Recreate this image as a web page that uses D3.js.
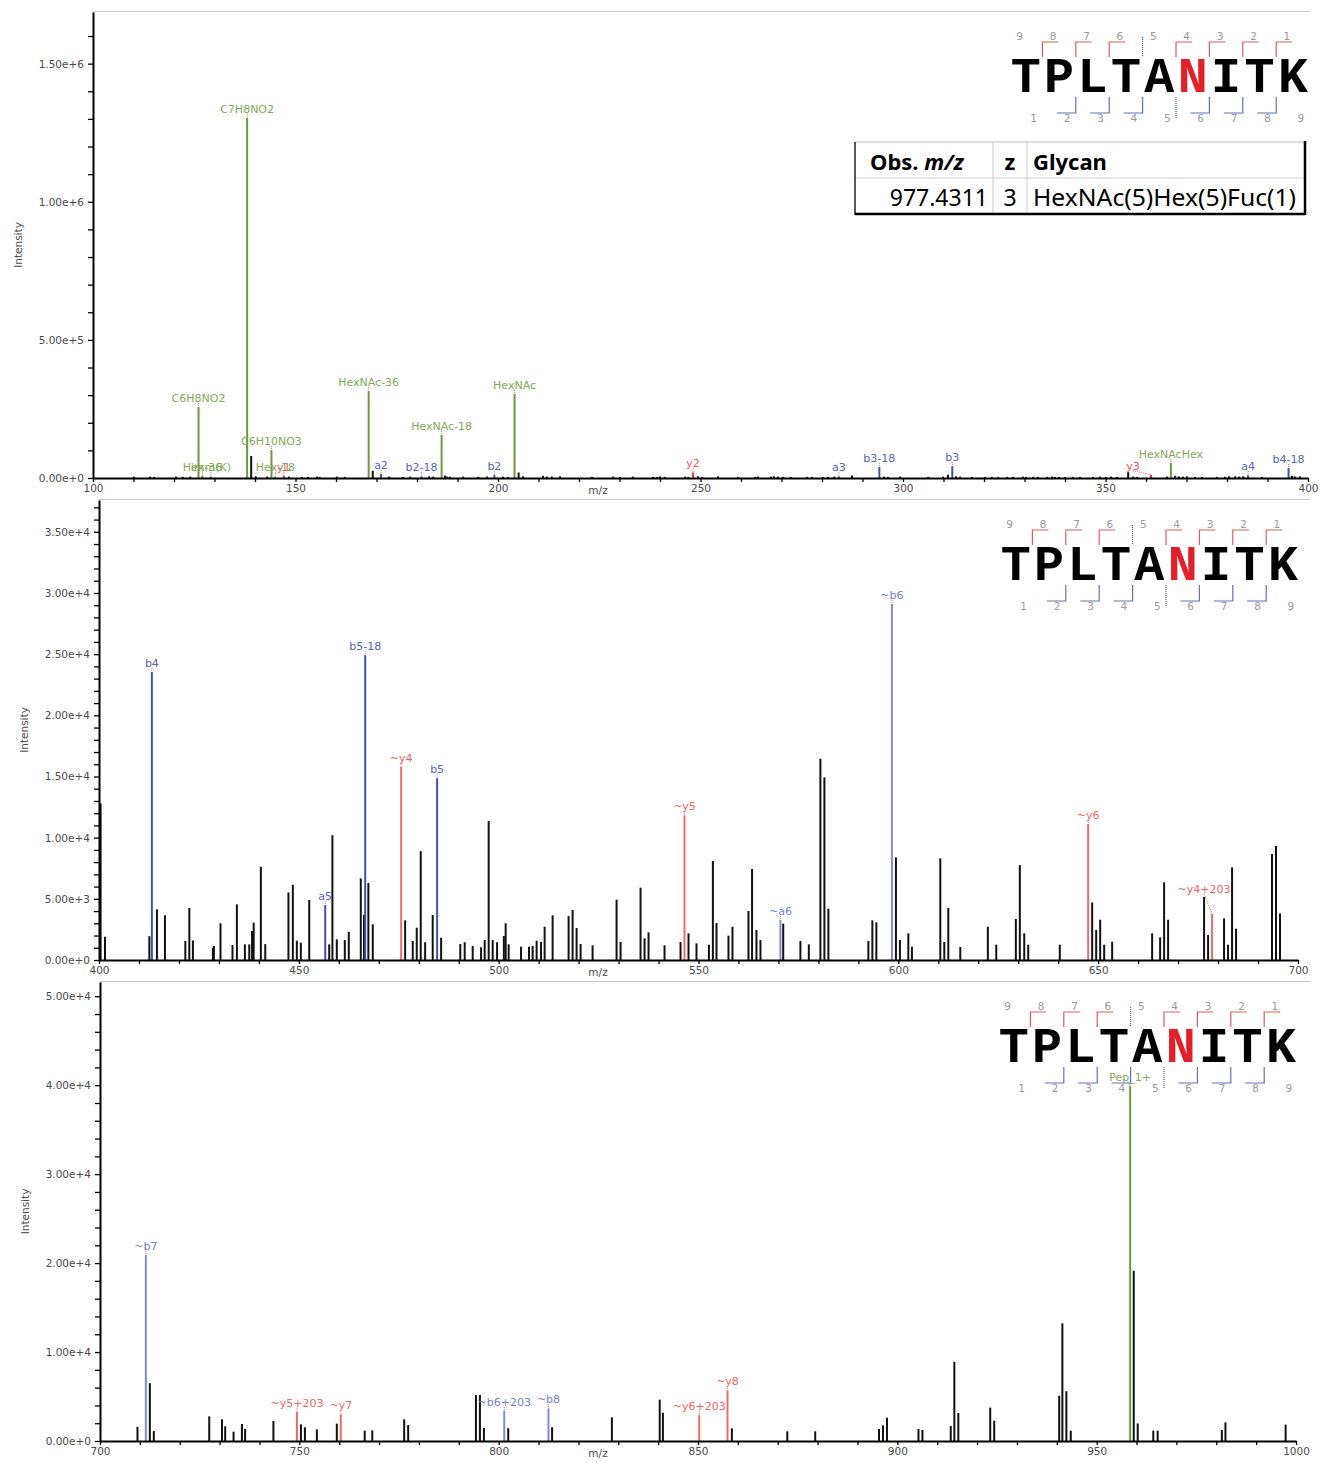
<!DOCTYPE html>
<html>
<head>
<meta charset="utf-8">
<script src="https://cdn.jsdelivr.net/npm/d3@7"></script>
<style>body{margin:0;background:#fff}</style>
</head>
<body>
<svg id="chart"></svg>
<script>
// Peptide and glycan info
const sequence = ['T', 'P', 'L', 'T', 'A', 'N', 'I', 'T', 'K'];
const glycoSite = 5;
// bracket state for y1..y8 and b1..b8 ('solid', 'dotted' or 'none')
const yIonState = ['solid', 'solid', 'solid', 'solid', 'dotted', 'solid', 'solid', 'solid'];
const bIonState = ['none', 'solid', 'solid', 'solid', 'dotted', 'solid', 'solid', 'solid'];

const tableHeader = ['Obs. ', 'm/z', 'z', 'Glycan'];
const tableRow = ['977.4311', '3', 'HexNAc(5)Hex(5)Fuc(1)'];

// Panel 1: m/z 100-400, [m/z, intensity]
const peaks1 = [
  [110.1, 5000], [114.1, 5000], [115.1, 4000], [120.5, 5000], [122.2, 4000], [124.0, 5000],
  [139.06, 80000], [140.2, 6000], [143.0, 5000], [148.4, 5000], [151.6, 4000], [153.1, 4000],
  [155.3, 5000], [156.0, 4000], [160.2, 5000], [162.2, 4000], [169.07, 26000], [173.1, 5000],
  [176.5, 4000], [178.3, 5000], [183.0, 6000], [184.0, 5000], [186.9, 9000], [187.4, 5000],
  [188.1, 5000], [191.4, 5000], [195.1, 4000], [197.3, 5000], [201.2, 5000], [202.5, 4000],
  [205.09, 20000], [206.2, 6000], [211.1, 8000], [212.1, 5000], [213.3, 5000], [215.3, 6000],
  [223.2, 4000], [228.4, 5000], [230.1, 4000], [233.3, 5000], [238.3, 4000], [239.3, 4000],
  [240.0, 5000], [241.2, 4000], [246.2, 5000], [247.0, 4000], [249.4, 6000], [250.4, 4000],
  [254.3, 6000], [259.3, 4000], [263.5, 4000], [264.2, 5000], [267.4, 5000], [268.1, 6000],
  [269.1, 5000], [270.4, 4000], [272.3, 4000], [276.3, 4000], [277.5, 4000], [280.2, 4000],
  [281.5, 4000], [283.0, 5000], [287.4, 9000], [295.3, 5000], [296.3, 4000], [299.3, 5000],
  [306.2, 4000], [309.9, 5000], [311.1, 12000], [313.1, 6000], [314.1, 5000], [317.0, 4000],
  [320.2, 4000], [322.0, 4000], [323.5, 4000], [325.7, 4000], [327.2, 4000], [329.6, 5000],
  [330.4, 4000], [332.1, 4000], [333.3, 4000], [335.6, 4000], [336.8, 5000], [337.5, 4000],
  [338.5, 4000], [340.0, 4000], [342.0, 4000], [343.7, 4000], [346.9, 4000], [348.6, 5000],
  [350.1, 4000], [351.4, 5000], [352.8, 4000], [355.6, 21000], [356.8, 5000], [357.8, 4000],
  [365.2, 5000], [367.2, 8000], [368.1, 6000], [369.1, 5000], [370.1, 6000], [372.1, 4000],
  [373.8, 4000], [377.5, 4000], [379.5, 4000], [380.5, 6000], [382.0, 6000], [383.0, 5000],
  [384.0, 6000], [388.6, 4000], [396.0, 8000], [396.7, 6000], [398.0, 6000]
];
const ions1 = [
  { mz: 126.055, I: 257000, label: 'C6H8NO2', kind: 'g' },
  { mz: 127.039, I: 9000, label: 'Hex-36', kind: 'g' },
  { mz: 129.102, I: 6000, label: 'imm(K)', kind: 'g' },
  { mz: 138.055, I: 1304000, label: 'C7H8NO2', kind: 'g' },
  { mz: 144.065, I: 101000, label: 'C6H10NO3', kind: 'g' },
  { mz: 145.050, I: 6000, label: 'Hex-18', kind: 'g' },
  { mz: 147.113, I: 9000, label: 'y1', kind: 'y' },
  { mz: 168.066, I: 315000, label: 'HexNAc-36', kind: 'g' },
  { mz: 171.113, I: 15000, label: 'a2', kind: 'b' },
  { mz: 181.097, I: 6000, label: 'b2-18', kind: 'b' },
  { mz: 186.076, I: 156000, label: 'HexNAc-18', kind: 'g' },
  { mz: 199.108, I: 12000, label: 'b2', kind: 'b' },
  { mz: 204.087, I: 304000, label: 'HexNAc', kind: 'g' },
  { mz: 248.16, I: 20000, label: 'y2', kind: 'y' },
  { mz: 284.17, I: 6000, label: 'a3', kind: 'b' },
  { mz: 294.16, I: 40000, label: 'b3-18', kind: 'b' },
  { mz: 312.17, I: 43000, label: 'b3', kind: 'b' },
  { mz: 361.23, I: 12000, label: 'y3', kind: 'y' },
  { mz: 366.14, I: 54000, label: 'HexNAcHex', kind: 'g' },
  { mz: 385.2, I: 10000, label: 'a4', kind: 'b' },
  { mz: 395.2, I: 36000, label: 'b4-18', kind: 'b' }
];

// Panel 2: m/z 400-700
const peaks2 = [
  [400.4, 12800], [401.5, 1900], [412.6, 1950], [414.5, 4140], [416.5, 3650], [421.6, 1550],
  [422.6, 4250], [423.5, 1600], [428.5, 1000], [428.75, 1150], [430.4, 3000], [433.4, 1230],
  [434.5, 4550], [436.5, 1280], [437.6, 1280], [438.3, 2370], [438.7, 3050], [440.5, 7620],
  [441.6, 1300], [447.4, 5530], [448.5, 6150], [449.5, 1580], [450.5, 1420], [452.6, 4900],
  [457.6, 1280], [458.4, 10200], [459.5, 1690], [461.5, 1630], [462.5, 2310], [465.5, 6670],
  [466.3, 3680], [467.4, 6290], [468.5, 2920], [476.6, 3240], [478.5, 1550], [479.5, 2640],
  [480.5, 8900], [481.6, 1450], [483.5, 3680], [485.6, 1820], [490.4, 1300], [491.5, 1450],
  [493.5, 1150], [495.6, 1040], [496.5, 1630], [497.5, 11360], [498.5, 1630], [499.6, 1450],
  [501.3, 1960], [501.75, 3000], [502.5, 1280], [505.6, 1090], [507.6, 1090], [508.5, 1150],
  [509.5, 1580], [510.6, 1470], [511.5, 2720], [513.5, 3650], [517.5, 3590], [518.5, 4090],
  [519.5, 2610], [520.5, 1310], [523.5, 1200], [529.5, 4930], [530.5, 1470], [535.5, 5910],
  [536.5, 1770], [537.5, 2260], [541.5, 1200], [545.5, 1470], [547.5, 2180], [549.5, 1360],
  [552.6, 1250], [553.6, 8090], [554.5, 3020], [557.5, 1990], [558.5, 2720], [562.5, 4000],
  [563.4, 7430], [564.5, 2450], [565.5, 1630], [571.2, 2970], [575.5, 1550], [577.6, 1280],
  [580.5, 16450], [581.5, 14930], [582.5, 4190], [592.5, 1550], [593.5, 3240], [594.5, 3080],
  [599.4, 8390], [600.4, 1630], [602.5, 2180], [603.4, 1090], [610.5, 8310], [611.5, 1470],
  [612.5, 4250], [615.5, 1060], [622.4, 2720], [624.5, 1250], [629.4, 3350], [630.4, 7760],
  [631.5, 2180], [632.5, 1250], [640.4, 1250], [648.5, 4700], [649.5, 2450], [650.5, 3290],
  [651.5, 1250], [653.5, 1500], [663.5, 2180], [665.5, 1850], [666.5, 6350], [667.5, 3290],
  [676.5, 5150], [677.5, 2040], [681.5, 3400], [682.5, 1250], [683.5, 7570], [684.5, 2560],
  [693.5, 8660], [694.5, 9320], [695.5, 3810]
];
const ions2 = [
  { mz: 413.23, I: 23550, label: 'b4', kind: 'b' },
  { mz: 456.6, I: 4490, label: 'a5', kind: 'b' },
  { mz: 466.6, I: 24900, label: 'b5-18', kind: 'b' },
  { mz: 475.6, I: 15800, label: '~y4', kind: 'yt' },
  { mz: 484.6, I: 14850, label: 'b5', kind: 'b' },
  { mz: 546.5, I: 11820, label: '~y5', kind: 'yt' },
  { mz: 570.5, I: 3270, label: '~a6', kind: 'bt' },
  { mz: 598.4, I: 29090, label: '~b6', kind: 'bt' },
  { mz: 647.5, I: 11110, label: '~y6', kind: 'yt' },
  { mz: 678.5, I: 3760, label: '~y4+203', kind: 'yt' }
];

// Panel 3: m/z 700-1000
const peaks3 = [
  [709.4, 1600], [712.5, 6500], [713.5, 1120], [727.4, 2770], [730.6, 2440], [731.4, 1650],
  [733.5, 1050], [735.6, 1910], [736.4, 1350], [743.5, 2250], [750.4, 1870], [751.4, 1540],
  [754.4, 1310], [759.4, 1950], [766.4, 1160], [768.3, 1200], [776.3, 2440], [777.3, 1800],
  [794.3, 5170], [795.3, 5170], [796.3, 1460], [802.4, 1440], [813.4, 1540], [828.4, 2660],
  [840.4, 4650], [841.2, 3180], [858.5, 1420], [872.4, 1090], [879.4, 1090], [895.4, 1350],
  [896.4, 1760], [897.4, 2620], [905.3, 1350], [906.3, 1240], [913.4, 1690], [914.3, 8900],
  [915.3, 3150], [923.3, 3750], [924.3, 2280], [940.6, 5100], [941.4, 13230], [942.4, 5600],
  [943.5, 1160], [959.3, 19140], [960.3, 1970], [964.2, 1160], [965.3, 1160], [981.4, 1240],
  [982.3, 2090], [997.4, 1840]
];
const ions3 = [
  { mz: 711.5, I: 20900, label: '~b7', kind: 'bt' },
  { mz: 749.4, I: 3300, label: '~y5+203', kind: 'yt' },
  { mz: 760.4, I: 3000, label: '~y7', kind: 'yt' },
  { mz: 801.4, I: 3370, label: '~b6+203', kind: 'bt' },
  { mz: 812.5, I: 3670, label: '~b8', kind: 'bt' },
  { mz: 850.3, I: 2920, label: '~y6+203', kind: 'yt' },
  { mz: 857.4, I: 5700, label: '~y8', kind: 'yt' },
  { mz: 958.4, I: 39900, label: 'Pep_1+', kind: 'g' }
];

// label nudges for crowded annotations (pixels)
const labelNudge = { 'y3': [-18, 0], '~y4+203': [-8, -16] };

const colors = {
  b:  { line: '#4152a6', text: '#5565b8' },
  bt: { line: '#7f8cd2', text: '#7181cb' },
  y:  { line: '#e53b3b', text: '#ef5a5a' },
  yt: { line: '#f06c6c', text: '#f26464' },
  g:  { line: '#6b9a3c', text: '#82a858' }
};

const panels = [
  { peaks: peaks1, ions: ions1, xDomain: [100, 400], xRange: [93, 1308], yMax: 1.687e6, yRange: [478, 12],
    yStep: 5e5, yMinor: 1e5, table: true },
  { peaks: peaks2, ions: ions2, xDomain: [400, 700], xRange: [99, 1298], yMax: 37600, yRange: [960, 500],
    yStep: 5e3, yMinor: 1e3, table: false },
  { peaks: peaks3, ions: ions3, xDomain: [700, 1000], xRange: [100, 1296], yMax: 51600, yRange: [1441, 982],
    yStep: 1e4, yMinor: 2e3, table: false }
];

const svg = d3.select('#chart').attr('width', 1319).attr('height', 1463);
svg.append('rect').attr('width', 1319).attr('height', 1463).attr('fill', '#fff');

const fmt = d3.format('.2e');
const tickFont = 'DejaVu Sans, Verdana, sans-serif';

function drawPanel(p) {
  const x = d3.scaleLinear().domain(p.xDomain).range(p.xRange);
  const y = d3.scaleLinear().domain([0, p.yMax]).range(p.yRange);
  const g = svg.append('g');
  const yTop = p.yRange[1];

  // thin top border
  g.append('line')
    .attr('x1', p.xRange[0]).attr('x2', 1310)
    .attr('y1', yTop - 0.5).attr('y2', yTop - 0.5)
    .attr('stroke', '#c8c8c8');

  // unassigned peaks
  g.selectAll('line.peak')
    .data(p.peaks)
    .enter()
    .append('line')
    .attr('class', 'peak')
    .attr('x1', d => x(d[0])).attr('x2', d => x(d[0]))
    .attr('y1', y(0)).attr('y2', d => y(d[1]))
    .attr('stroke', '#111')
    .attr('stroke-width', 2);

  // annotated peaks
  g.selectAll('line.ion')
    .data(p.ions)
    .enter()
    .append('line')
    .attr('class', 'ion')
    .attr('x1', d => x(d.mz)).attr('x2', d => x(d.mz))
    .attr('y1', y(0)).attr('y2', d => y(d.I))
    .attr('stroke', d => colors[d.kind].line)
    .attr('stroke-width', 2);

  // dotted connectors from label to peak top
  g.selectAll('line.conn')
    .data(p.ions)
    .enter()
    .append('line')
    .attr('class', 'conn')
    .attr('x1', d => x(d.mz) + (labelNudge[d.label] || [0, 0])[0])
    .attr('y1', d => y(d.I) - 4 + (labelNudge[d.label] || [0, 0])[1])
    .attr('x2', d => x(d.mz))
    .attr('y2', d => y(d.I))
    .attr('stroke', '#e86060')
    .attr('stroke-width', 1)
    .attr('stroke-dasharray', '1,1');

  g.selectAll('text.ion-label')
    .data(p.ions)
    .enter()
    .append('text')
    .attr('class', 'ion-label')
    .attr('x', d => x(d.mz) + (labelNudge[d.label] || [0, 0])[0])
    .attr('y', d => y(d.I) - 5 + (labelNudge[d.label] || [0, 0])[1])
    .attr('text-anchor', 'middle')
    .attr('font-family', tickFont)
    .attr('font-size', '11px')
    .attr('fill', d => colors[d.kind].text)
    .text(d => d.label);

  // y axis
  const nMinor = Math.floor(p.yMax / p.yMinor + 1e-9);
  const perMajor = Math.round(p.yStep / p.yMinor);
  const yTicks = d3.range(0, nMinor + 1).map(i => i * p.yMinor);
  const yAxisGroup = g.append('g')
    .attr('transform', 'translate(' + p.xRange[0] + ',0)')
    .call(d3.axisLeft(y)
      .tickValues(yTicks)
      .tickSize(5)
      .tickSizeOuter(0)
      .tickPadding(4)
      .tickFormat((v, i) => (i % perMajor === 0 ? fmt(v) : '')));
  yAxisGroup.select('path').attr('stroke', '#000').attr('stroke-width', 2);
  yAxisGroup.selectAll('line').attr('stroke', '#000').attr('stroke-width', 1.3);
  yAxisGroup.selectAll('text').attr('fill', '#4a4a4a').attr('font-family', tickFont).attr('font-size', '10.5px');

  // x axis
  const xTicks = d3.range(p.xDomain[0], p.xDomain[1] + 1, 10);
  const xAxisGroup = g.append('g')
    .attr('transform', 'translate(0,' + p.yRange[0] + ')')
    .call(d3.axisBottom(x)
      .tickValues(xTicks)
      .tickSize(4)
      .tickSizeOuter(0)
      .tickPadding(3)
      .tickFormat(v => (v % 50 === 0 ? v : '')));
  xAxisGroup.select('path').attr('stroke', '#000').attr('stroke-width', 2);
  xAxisGroup.selectAll('line').attr('stroke', '#000').attr('stroke-width', 1.3);
  xAxisGroup.selectAll('text').attr('fill', '#4a4a4a').attr('font-family', tickFont).attr('font-size', '10.5px');

  // axis titles
  g.append('text')
    .attr('x', 598)
    .attr('y', p.yRange[0] + 16)
    .attr('text-anchor', 'middle')
    .attr('font-family', tickFont)
    .attr('font-size', '10.5px')
    .attr('fill', '#4a4a4a')
    .text('m/z');

  g.append('text')
    .attr('transform', 'translate(' + (p.xRange[0] - 71) + ',' + ((p.yRange[0] + yTop) / 2) + ') rotate(-90)')
    .attr('text-anchor', 'middle')
    .attr('font-family', tickFont)
    .attr('font-size', '10.5px')
    .attr('fill', '#4a4a4a')
    .text('Intensity');

  drawSequence(g, p.xRange[1] - 299, yTop);
  if (p.table) drawTable(g, 855, yTop + 130);
}

function drawSequence(g, left, top) {
  const cw = 33.4;
  sequence.forEach((aa, i) => {
    const cx = left + cw * (i + 0.5);
    g.append('text')
      .attr('x', cx).attr('y', top + 80)
      .attr('text-anchor', 'middle')
      .attr('font-family', 'Liberation Mono, Courier New, monospace')
      .attr('font-weight', 'bold')
      .attr('font-size', '50px')
      .attr('fill', i === glycoSite ? '#e3202a' : '#000')
      .text(aa);
    g.append('text')
      .attr('x', cx - 6).attr('y', top + 28)
      .attr('text-anchor', 'middle')
      .attr('font-family', tickFont).attr('font-size', '10.5px')
      .attr('fill', '#999')
      .text(sequence.length - i);
    g.append('text')
      .attr('x', cx + 8).attr('y', top + 110)
      .attr('text-anchor', 'middle')
      .attr('font-family', tickFont).attr('font-size', '10.5px')
      .attr('fill', '#999')
      .text(i + 1);
  });

  // y ion brackets (above)
  yIonState.forEach((state, k) => {
    const xb = left + cw * (sequence.length - 1 - k);
    if (state === 'solid') {
      g.append('path')
        .attr('d', `M${xb},${top + 45}V${top + 30}H${xb + 16}`)
        .attr('fill', 'none').attr('stroke', '#e35a5a').attr('stroke-width', 1.2);
    } else if (state === 'dotted') {
      g.append('line')
        .attr('x1', xb).attr('x2', xb).attr('y1', top + 25).attr('y2', top + 45)
        .attr('stroke', '#a04a4a').attr('stroke-width', 1.2).attr('stroke-dasharray', '1,1');
    }
  });

  // b ion brackets (below)
  bIonState.forEach((state, k) => {
    const xb = left + cw * (k + 1);
    if (state === 'solid') {
      g.append('path')
        .attr('d', `M${xb},${top + 85}V${top + 101}H${xb - 19}`)
        .attr('fill', 'none').attr('stroke', '#6070c0').attr('stroke-width', 1.2);
    } else if (state === 'dotted') {
      g.append('line')
        .attr('x1', xb).attr('x2', xb).attr('y1', top + 85).attr('y2', top + 106)
        .attr('stroke', '#505a90').attr('stroke-width', 1.2).attr('stroke-dasharray', '1,1');
    }
  });
}

function drawTable(g, left, top) {
  const cols = [0, 138, 172, 450];
  const rowH = 36;
  const t = g.append('g').attr('transform', `translate(${left},${top})`);
  t.append('rect').attr('width', cols[3]).attr('height', rowH * 2).attr('fill', '#fff');
  // grid
  t.append('line').attr('x1', 0).attr('x2', cols[3]).attr('y1', 0).attr('y2', 0).attr('stroke', '#bbb');
  t.append('line').attr('x1', 0).attr('x2', cols[3]).attr('y1', rowH).attr('y2', rowH).attr('stroke', '#ccc');
  [cols[1], cols[2]].forEach(cx => {
    t.append('line').attr('x1', cx).attr('x2', cx).attr('y1', 0).attr('y2', rowH * 2).attr('stroke', '#ccc');
  });
  t.append('line').attr('x1', 0).attr('x2', 0).attr('y1', 0).attr('y2', rowH * 2 + 1).attr('stroke', '#222').attr('stroke-width', 1.5);
  t.append('line').attr('x1', cols[3]).attr('x2', cols[3]).attr('y1', -1).attr('y2', rowH * 2 + 1).attr('stroke', '#000').attr('stroke-width', 2.5);
  t.append('line').attr('x1', 0).attr('x2', cols[3]).attr('y1', rowH * 2).attr('y2', rowH * 2).attr('stroke', '#000').attr('stroke-width', 2.5);

  const font = 'Noto Sans, Open Sans, sans-serif';
  const head = t.append('text').attr('x', 15).attr('y', 28)
    .attr('font-family', font).attr('font-size', '22px').attr('font-weight', 'bold').attr('fill', '#000');
  head.append('tspan').text(tableHeader[0]);
  head.append('tspan').attr('font-style', 'italic').text(tableHeader[1]);
  t.append('text').attr('x', (cols[1] + cols[2]) / 2).attr('y', 28).attr('text-anchor', 'middle')
    .attr('font-family', font).attr('font-size', '22px').attr('font-weight', 'bold').text(tableHeader[2]);
  t.append('text').attr('x', cols[2] + 6).attr('y', 28)
    .attr('font-family', font).attr('font-size', '22px').attr('font-weight', 'bold').text(tableHeader[3]);

  t.append('text').attr('x', cols[1] - 5).attr('y', rowH + 28).attr('text-anchor', 'end')
    .attr('font-family', font).attr('font-size', '23px').text(tableRow[0]);
  t.append('text').attr('x', (cols[1] + cols[2]) / 2).attr('y', rowH + 28).attr('text-anchor', 'middle')
    .attr('font-family', font).attr('font-size', '23px').text(tableRow[1]);
  t.append('text').attr('x', cols[2] + 6).attr('y', rowH + 28)
    .attr('font-family', font).attr('font-size', '23px')
    .attr('textLength', 263).attr('lengthAdjust', 'spacingAndGlyphs')
    .text(tableRow[2]);
}

panels.forEach(drawPanel);
</script>
</body>
</html>
